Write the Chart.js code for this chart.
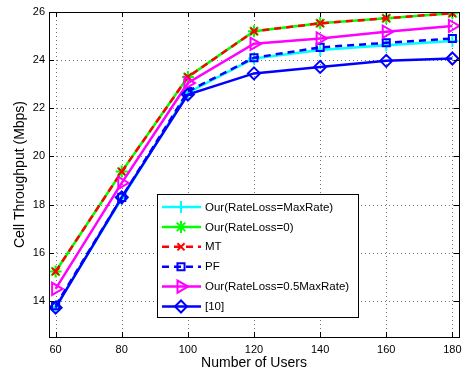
<!DOCTYPE html>
<html>
<head>
<meta charset="utf-8">
<script src="https://cdn.jsdelivr.net/npm/chart.js@4/dist/chart.umd.min.js"></script>
<style>
  html, body { margin: 0; padding: 0; background: #fff; }
  #wrap { width: 468px; height: 372px; }
</style>
</head>
<body>
<div id="wrap"><canvas id="c" width="468" height="372"></canvas></div>
<script>
// Cell throughput vs. number of users
const users = [60, 80, 100, 120, 140, 160, 180];
const xTicks = [60, 80, 100, 120, 140, 160, 180];
const yTicks = [14, 16, 18, 20, 22, 24, 26];

const ourMaxRate  = [13.75, 18.25, 22.65, 24.07, 24.42, 24.62, 24.80];
const ourZero     = [15.22, 19.37, 23.30, 25.20, 25.53, 25.74, 25.95];
const mt          = [15.22, 19.37, 23.30, 25.20, 25.53, 25.74, 25.95];
const pf          = [13.80, 18.30, 22.70, 24.10, 24.53, 24.72, 24.90];
const ourHalfRate = [14.50, 18.90, 23.05, 24.68, 24.90, 25.18, 25.42];
const ref10       = [13.72, 18.30, 22.57, 23.45, 23.72, 23.97, 24.07];

const seriesLabels = [
  'Our(RateLoss=MaxRate)', 'Our(RateLoss=0)', 'MT', 'PF',
  'Our(RateLoss=0.5MaxRate)', '[10]'
];

const FONT = '"Liberation Sans", Arial, Helvetica, sans-serif';

function pts(arr) { return users.map((u, i) => ({ x: u, y: arr[i] })); }

const styles = [
  { data: ourMaxRate,  color: '#00ffff', dash: [],     point: 'cross',    rot: 0,  r: 6 },
  { data: ourZero,     color: '#00ff00', dash: [],     point: 'star',     rot: 0,  r: 6 },
  { data: mt,          color: '#ff0000', dash: [7, 5], point: 'crossRot', rot: 0,  r: 5 },
  { data: pf,          color: '#0000ff', dash: [7, 5], point: 'rect',     rot: 0,  r: 5 },
  { data: ourHalfRate, color: '#ff00ff', dash: [],     point: 'triangle', rot: 90, r: 7 },
  { data: ref10,       color: '#0000ff', dash: [],     point: 'rectRot',  rot: 0,  r: 6 }
];

const datasets = styles.map((s, i) => ({
  label: seriesLabels[i],
  data: pts(s.data),
  borderColor: s.color,
  backgroundColor: 'rgba(0,0,0,0)',
  borderWidth: 2.5,
  borderDash: s.dash,
  pointStyle: s.point,
  pointRotation: s.rot,
  pointRadius: s.r,
  pointBorderWidth: 2,
  pointBorderColor: s.color,
  pointBackgroundColor: 'rgba(0,0,0,0)',
  tension: 0,
  order: styles.length - i
}));

// Dotted grid behind the series
const dottedGrid = {
  id: 'dottedGrid',
  beforeDatasetsDraw(chart) {
    const { ctx, chartArea: a, scales } = chart;
    ctx.save();
    ctx.strokeStyle = 'rgba(0,0,0,0.55)';
    ctx.lineWidth = 1;
    ctx.setLineDash([1, 3]);
    ctx.beginPath();
    xTicks.forEach(v => {
      const x = Math.round(scales.x.getPixelForValue(v)) + 0.5;
      ctx.moveTo(x, a.bottom); ctx.lineTo(x, a.top);
    });
    yTicks.forEach(v => {
      const y = Math.round(scales.y.getPixelForValue(v)) + 0.5;
      ctx.moveTo(a.left, y); ctx.lineTo(a.right, y);
    });
    ctx.stroke();
    ctx.restore();
  }
};

// Box, inward tick marks, axis titles and legend
const frame = {
  id: 'frame',
  afterDraw(chart) {
    const { ctx, chartArea: a, scales } = chart;
    ctx.save();
    ctx.strokeStyle = '#000';
    ctx.lineWidth = 1;
    ctx.strokeRect(Math.round(a.left) + 0.5, Math.round(a.top) + 0.5,
                   Math.round(a.right - a.left), Math.round(a.bottom - a.top));
    const tl = 5;
    ctx.beginPath();
    xTicks.forEach(v => {
      const x = Math.round(scales.x.getPixelForValue(v)) + 0.5;
      ctx.moveTo(x, a.bottom); ctx.lineTo(x, a.bottom - tl);
      ctx.moveTo(x, a.top); ctx.lineTo(x, a.top + tl);
    });
    yTicks.forEach(v => {
      const y = Math.round(scales.y.getPixelForValue(v)) + 0.5;
      ctx.moveTo(a.left, y); ctx.lineTo(a.left + tl, y);
      ctx.moveTo(a.right, y); ctx.lineTo(a.right - tl, y);
    });
    ctx.stroke();

    // axis titles
    ctx.fillStyle = '#000';
    ctx.font = '14px ' + FONT;
    ctx.textAlign = 'center';
    ctx.textBaseline = 'middle';
    ctx.fillText('Number of Users', (a.left + a.right) / 2, 363);
    ctx.save();
    ctx.translate(20, (a.top + a.bottom) / 2);
    ctx.rotate(-Math.PI / 2);
    ctx.fillText('Cell Throughput (Mbps)', 0, 0);
    ctx.restore();

    // legend
    const lx = 157, ly = 194, lw = 201, lh = 123;
    ctx.fillStyle = '#fff';
    ctx.fillRect(lx, ly, lw, lh);
    ctx.strokeStyle = '#000';
    ctx.lineWidth = 1;
    ctx.strokeRect(lx + 0.5, ly + 0.5, lw, lh);
    ctx.font = '11.5px ' + FONT;
    ctx.textAlign = 'left';
    ctx.textBaseline = 'middle';
    chart.data.datasets.forEach((ds, i) => {
      const y = ly + 13 + i * 19.9;
      ctx.save();
      ctx.strokeStyle = ds.borderColor;
      ctx.lineWidth = ds.borderWidth;
      ctx.setLineDash(ds.borderDash);
      ctx.beginPath();
      ctx.moveTo(lx + 5, y);
      ctx.lineTo(lx + 44, y);
      ctx.stroke();
      ctx.setLineDash([]);
      ctx.lineWidth = ds.pointBorderWidth;
      ctx.fillStyle = 'rgba(0,0,0,0)';
      Chart.helpers.drawPoint(ctx, {
        pointStyle: ds.pointStyle,
        rotation: ds.pointRotation,
        radius: ds.pointRadius,
        borderWidth: ds.pointBorderWidth
      }, lx + 24, y);
      ctx.restore();
      ctx.fillStyle = '#000';
      ctx.fillText(ds.label, lx + 48, y + 0.5);
    });
    ctx.restore();
  }
};

new Chart(document.getElementById('c'), {
  type: 'line',
  data: { datasets },
  options: {
    responsive: false,
    animation: false,
    layout: { padding: { top: 12, right: 4, left: 0, bottom: 0 } },
    plugins: { legend: { display: false }, tooltip: { enabled: false } },
    scales: {
      x: {
        type: 'linear',
        min: 58,
        max: 182,
        afterBuildTicks: s => { s.ticks = xTicks.map(v => ({ value: v })); },
        afterFit: s => { s.height = 35; },
        ticks: { color: '#000', font: { family: FONT, size: 11 }, padding: 6, maxRotation: 0 },
        grid: { display: false, drawTicks: false },
        border: { display: false }
      },
      y: {
        type: 'linear',
        min: 12.5,
        max: 26,
        afterBuildTicks: s => { s.ticks = yTicks.map(v => ({ value: v })); },
        afterFit: s => { s.width = 49; },
        ticks: { color: '#000', font: { family: FONT, size: 11 }, padding: 4 },
        grid: { display: false, drawTicks: false },
        border: { display: false }
      }
    }
  },
  plugins: [dottedGrid, frame]
});
</script>
</body>
</html>
